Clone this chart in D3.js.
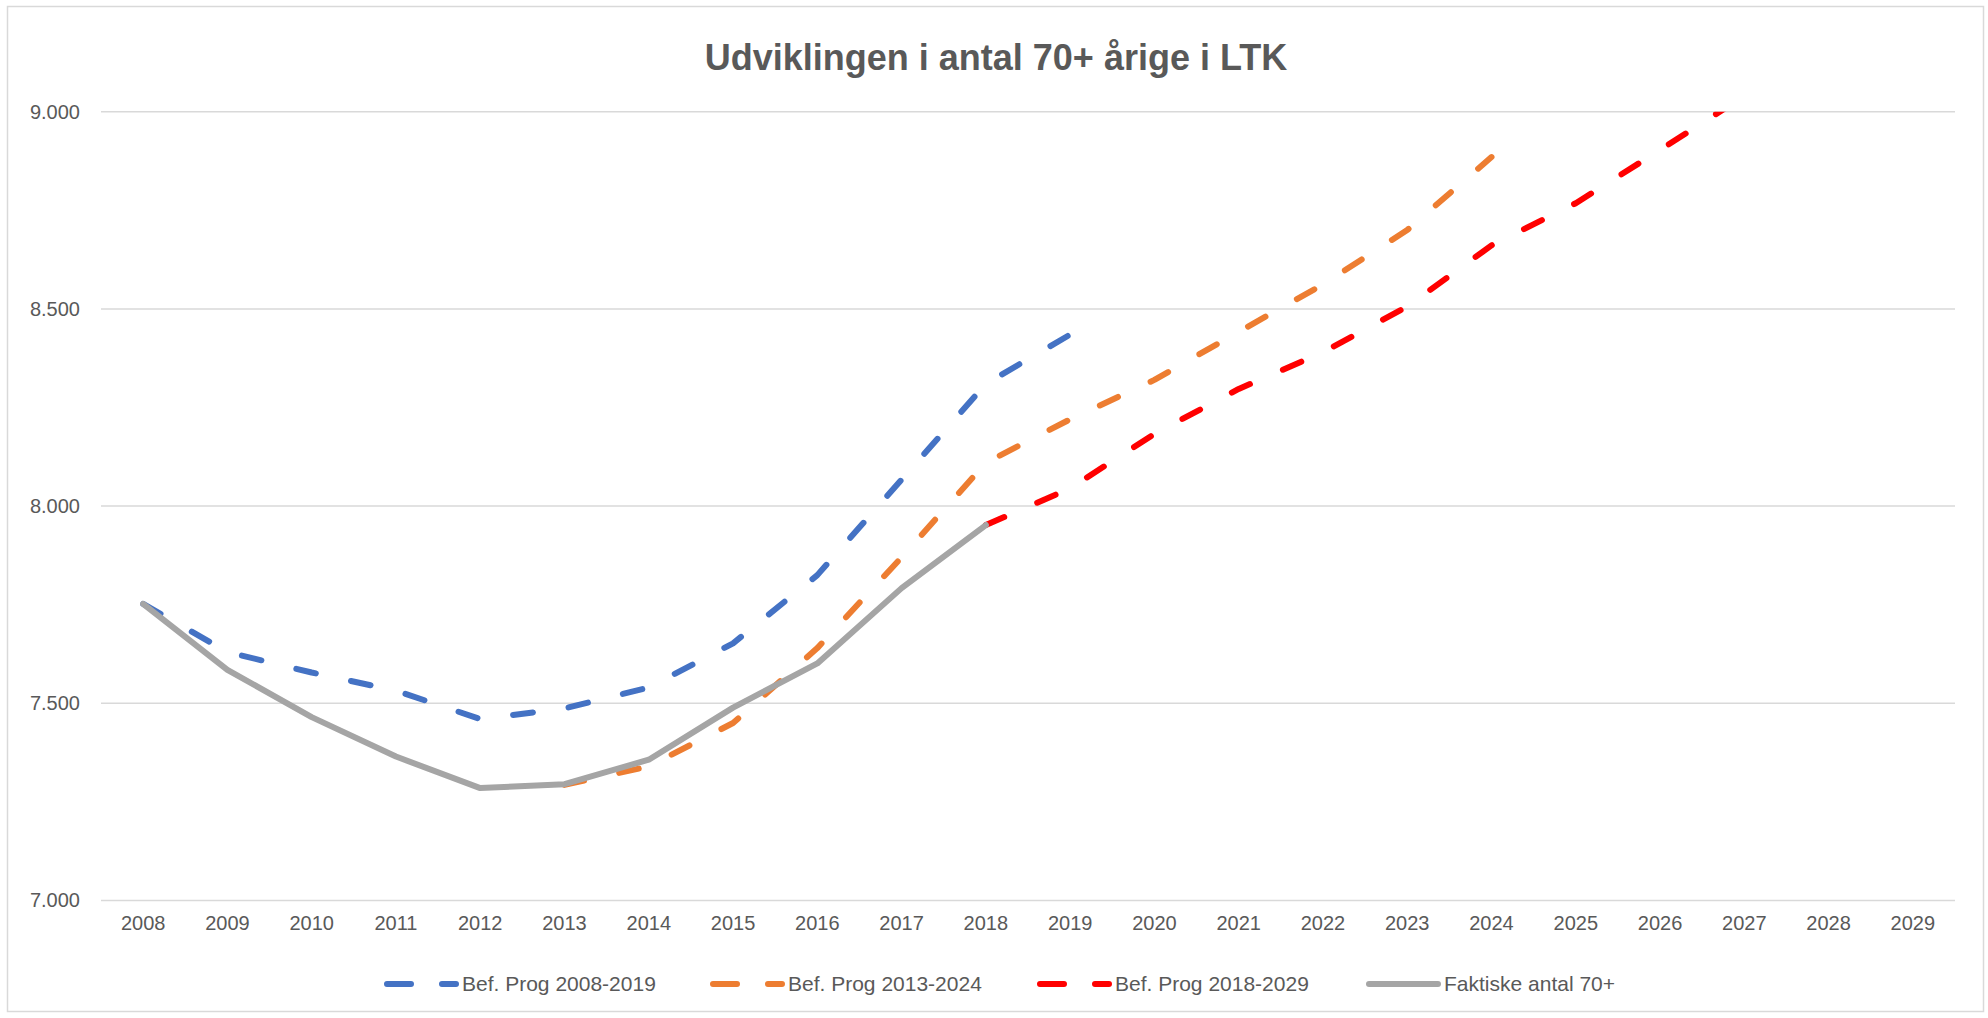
<!DOCTYPE html>
<html>
<head>
<meta charset="utf-8">
<script src="https://cdn.jsdelivr.net/npm/d3@7"></script>
<style>
  body { margin: 0; background: #ffffff; }
  text { font-family: "Liberation Sans", Arial, sans-serif; fill: #595959; }
</style>
</head>
<body>
<div id="chart"></div>
<script>
var years = ["2008", "2009", "2010", "2011", "2012", "2013", "2014", "2015", "2016", "2017", "2018",
             "2019", "2020", "2021", "2022", "2023", "2024", "2025", "2026", "2027", "2028", "2029"];
var yTicks = [7000, 7500, 8000, 8500, 9000];

// each forecast starts at its own year
var prog2008 = [7752, 7630, 7578, 7532, 7460, 7487, 7540, 7652, 7825, 8067, 8310, 8435];
var prog2013 = [7293, 7340, 7450, 7640, 7870, 8110, 8220, 8320, 8442, 8562, 8700, 8885];
var prog2018 = [7952, 8045, 8183, 8297, 8390, 8506, 8661, 8768, 8903, 9040];
var faktiske = [7752, 7585, 7465, 7365, 7285, 7295, 7357, 7489, 7601, 7792, 7952];

var seriesNames = ["Bef. Prog 2008-2019", "Bef. Prog 2013-2024", "Bef. Prog 2018-2029", "Faktiske antal 70+"];
var seriesStart = ["2008", "2013", "2018", "2008"];
var seriesColors = ["#4472c4", "#ed7d31", "#ff0000", "#a5a5a5"];
var seriesValues = [prog2008, prog2013, prog2018, faktiske];

var width = 1988, height = 1018;
var dashPattern = "20 36";

var svg = d3.select("#chart")
            .append("svg")
            .attr("width", width)
            .attr("height", height);

// chart border
svg.append("rect")
   .attr("x", 7.5).attr("y", 6.5)
   .attr("width", 1976).attr("height", 1005)
   .style("fill", "none")
   .style("stroke", "#d9d9d9")
   .style("stroke-width", 1.5);

svg.append("text")
   .attr("x", 996)
   .attr("y", 70)
   .attr("text-anchor", "middle")
   .style("font-size", "36px")
   .style("font-weight", "bold")
   .text("Udviklingen i antal 70+ årige i LTK");

var x = d3.scaleBand().domain(years).range([101, 1955]);
var y = d3.scaleLinear().domain([7000, 9000]).range([900.5, 111.7]);

// gridlines
svg.append("g")
   .selectAll("line")
   .data(yTicks)
   .enter()
   .append("line")
   .attr("x1", 101).attr("x2", 1955)
   .attr("y1", function(d) { return y(d); })
   .attr("y2", function(d) { return y(d); })
   .style("stroke", "#d9d9d9")
   .style("stroke-width", 1.5);

// y axis labels
var yAxis = svg.append("g")
               .attr("transform", "translate(101,0)")
               .call(d3.axisLeft(y).tickValues(yTicks).tickSize(0).tickPadding(21)
                       .tickFormat(function(d) { return d3.format(",.3f")(d / 1000).replace(",", ""); }));
yAxis.select(".domain").remove();
yAxis.selectAll("text").style("font-size", "20px").style("font-family", null);

// x axis labels
var xAxis = svg.append("g")
               .attr("transform", "translate(0," + y(7000) + ")")
               .call(d3.axisBottom(x).tickSize(0).tickPadding(15));
xAxis.select(".domain").remove();
xAxis.selectAll("text").style("font-size", "20px").style("font-family", null);

svg.append("clipPath")
   .attr("id", "plotclip")
   .append("rect")
   .attr("x", 0).attr("y", y(9000))
   .attr("width", width).attr("height", y(7000) - y(9000) + 20);

var line = d3.line()
             .x(function(d) { return x(d[0]) + x.bandwidth() / 2; })
             .y(function(d) { return y(d[1]); });

var lines = svg.append("g").attr("clip-path", "url(#plotclip)");

for (var s = 0; s < seriesValues.length; s++) {
    var start = years.indexOf(seriesStart[s]);
    var pts = seriesValues[s].map(function(v, i) { return [years[start + i], v]; });
    lines.append("path")
         .datum(pts)
         .attr("d", line)
         .style("fill", "none")
         .style("stroke", seriesColors[s])
         .style("stroke-width", 6)
         .style("stroke-linecap", "round")
         .style("stroke-linejoin", "round")
         .style("stroke-dasharray", s < 3 ? dashPattern : null);
}

// legend
var legendX = [387, 713, 1040, 1369];
var legend = svg.append("g")
                .selectAll("g")
                .data(seriesNames)
                .enter()
                .append("g")
                .attr("transform", function(d, i) { return "translate(" + legendX[i] + ",984)"; });

legend.append("line")
      .attr("x1", 0).attr("x2", 69)
      .attr("y1", 0).attr("y2", 0)
      .style("stroke", function(d, i) { return seriesColors[i]; })
      .style("stroke-width", 6)
      .style("stroke-linecap", "round")
      .style("stroke-dasharray", function(d, i) { return i < 3 ? "24 31" : null; });

legend.append("text")
      .attr("x", 75)
      .attr("y", 7)
      .style("font-size", "21px")
      .text(function(d) { return d; });
</script>
</body>
</html>
